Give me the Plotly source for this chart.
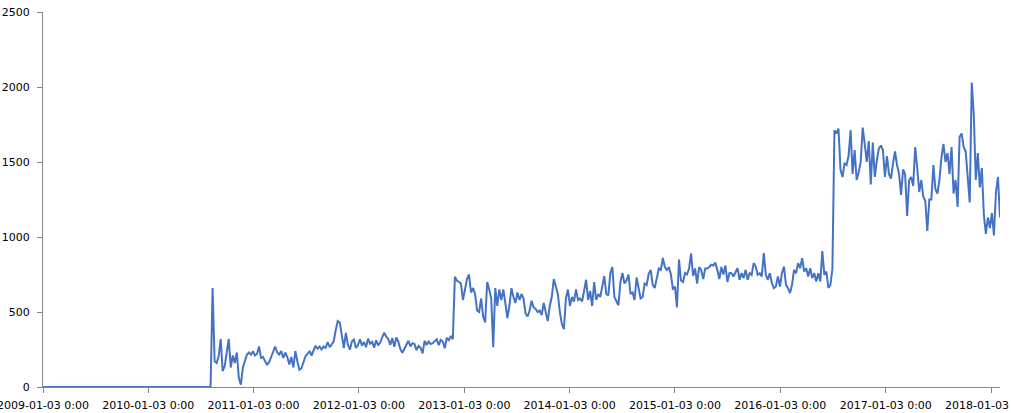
import pandas as pd
import plotly.graph_objects as go

# Flat zero stretch before the series starts (first and last zero week)
zero_dates = ["2009-01-03", "2010-08-07"]
zero_values = [0, 0]

# Weekly values, first week 2010-08-14
first_week = "2010-08-14"
weekly_2010 = [660, 172, 160, 205, 320, 105, 140, 240, 320, 130,
               210, 160, 230, 60, 15, 130, 170, 216, 230, 216]
weekly_2011 = [238, 210, 220, 270, 194, 200, 172, 150, 165, 205,
               240, 270, 230, 216, 240, 194, 230, 200, 150, 200,
               130, 240, 170, 115, 125, 170, 205, 220, 240, 210,
               250, 275, 255, 270, 250, 270, 260, 300, 265, 290,
               305, 380, 440, 430, 338, 260, 360, 283, 249, 305,
               316, 260]
weekly_2012 = [280, 318, 276, 300, 265, 322, 288, 301, 262, 312,
               278, 296, 330, 362, 335, 320, 281, 326, 268, 330,
               302, 252, 228, 258, 285, 308, 270, 292, 286, 246,
               274, 262, 224, 308, 280, 303, 286, 292, 306, 318,
               279, 314, 303, 258, 328, 312, 340, 318, 735, 710,
               700, 690]
weekly_2013 = [580, 650, 720, 750, 630, 660, 620, 510, 500, 590,
               470, 430, 700, 650, 590, 265, 660, 540, 650, 580,
               650, 560, 460, 540, 660, 600, 560, 630, 580, 620,
               590, 490, 470, 510, 575, 530, 520, 500, 510, 480,
               560, 500, 440, 540, 600, 720, 670, 620, 500, 420,
               385, 590]
weekly_2014 = [650, 540, 600, 570, 650, 580, 590, 570, 640, 715,
               580, 640, 540, 700, 580, 620, 600, 660, 740, 620,
               610, 760, 800, 600, 570, 545, 700, 760, 690, 710,
               750, 620, 630, 580, 730, 660, 590, 600, 690, 680,
               755, 780, 680, 660, 720, 790, 780, 860, 800, 780,
               800, 750]
weekly_2015 = [650, 670, 530, 850, 710, 700, 760, 750, 790, 890,
               740, 790, 690, 800, 780, 720, 790, 790, 800, 815,
               810, 830, 780, 720, 800, 750, 810, 700, 760, 759,
               737, 770, 792, 715, 759, 726, 781, 715, 759, 748,
               826, 803, 748, 759, 737, 892, 748, 715, 759, 693,
               659, 670]
weekly_2016 = [737, 670, 759, 803, 681, 659, 626, 681, 781, 759,
               826, 792, 859, 770, 792, 737, 792, 726, 759, 704,
               759, 704, 906, 748, 770, 660, 680, 790, 1712, 1690,
               1723, 1450, 1400, 1490, 1480, 1540, 1712, 1420, 1579, 1380,
               1430, 1500, 1730, 1620, 1500, 1640, 1350, 1630, 1400, 1510,
               1590, 1610]
weekly_2017 = [1580, 1400, 1540, 1420, 1390, 1490, 1570, 1480, 1420, 1280,
               1450, 1420, 1140, 1380, 1400, 1340, 1600, 1460, 1300, 1380,
               1270, 1240, 1040, 1250, 1250, 1480, 1320, 1290, 1380, 1530,
               1620, 1500, 1560, 1420, 1600, 1290, 1380, 1200, 1668, 1690,
               1600, 1570, 1400, 1230, 2030, 1820, 1380, 1560, 1330, 1460,
               1150, 1020]
weekly_2018 = [1130, 1060, 1160, 1010, 1300, 1400, 1130]

tick_dates = ["2009-01-03", "2010-01-03", "2011-01-03", "2012-01-03", "2013-01-03",
              "2014-01-03", "2015-01-03", "2016-01-03", "2017-01-03", "2018-01-03"]
tick_labels = ["2009-01-03 0:00", "2010-01-03 0:00", "2011-01-03 0:00", "2012-01-03 0:00",
               "2013-01-03 0:00", "2014-01-03 0:00", "2015-01-03 0:00", "2016-01-03 0:00",
               "2017-01-03 0:00", "2018-01-03 0:00"]

weekly = (weekly_2010 + weekly_2011 + weekly_2012 + weekly_2013 + weekly_2014
          + weekly_2015 + weekly_2016 + weekly_2017 + weekly_2018)
weekly_dates = pd.date_range(first_week, periods=len(weekly), freq="7D")

x = list(pd.to_datetime(zero_dates)) + list(weekly_dates)
y = zero_values + weekly

axis_color = "#868686"
font = dict(family="Verdana, DejaVu Sans, sans-serif", size=11, color="#000000")

fig = go.Figure(
    go.Scatter(
        x=x,
        y=y,
        mode="lines",
        line=dict(color="#4472C4", width=2),
        showlegend=False,
    )
)

fig.update_layout(
    width=1011,
    height=413,
    paper_bgcolor="white",
    plot_bgcolor="white",
    font=font,
    margin=dict(l=43, r=11, t=12, b=26),
    xaxis=dict(
        range=[pd.Timestamp("2009-01-03"), weekly_dates[-1]],
        tickvals=tick_dates,
        ticktext=tick_labels,
        showgrid=False,
        zeroline=False,
        showline=True,
        linecolor=axis_color,
        linewidth=1,
        ticks="outside",
        ticklen=5,
        tickcolor=axis_color,
        ticklabelstandoff=3,
        ticklabeloverflow="allow",
        automargin=False,
    ),
    yaxis=dict(
        range=[0, 2500],
        dtick=500,
        showgrid=False,
        zeroline=False,
        showline=True,
        linecolor=axis_color,
        linewidth=1,
        ticks="outside",
        ticklen=5,
        tickcolor=axis_color,
        ticklabelstandoff=5,
        ticklabeloverflow="allow",
        automargin=False,
    ),
)

# the page body has a default 8px margin; drop it so the figure fills the window
fig.write_html(
    "out.html",
    config={"displayModeBar": False},
    post_script="document.body.style.margin = '0';",
)
